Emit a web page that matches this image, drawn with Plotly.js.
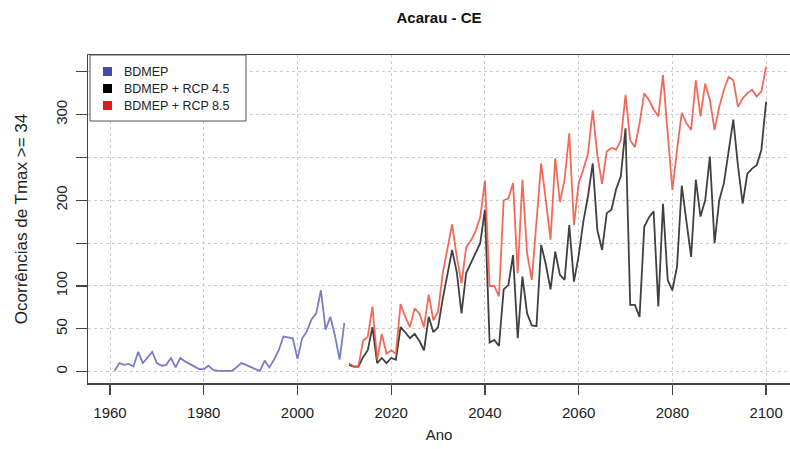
<!DOCTYPE html>
<html>
<head>
<meta charset="utf-8">
<script src="https://cdn.plot.ly/plotly-3.0.1.min.js"></script>
<style>html,body{margin:0;padding:0;background:#fff;}#chart{width:790px;height:449px;}</style>
</head>
<body>
<div id="chart"></div>
<script>
// Observed series (BDMEP station data)
const yearsObs = [];
for (let y = 1961; y <= 2010; y++) yearsObs.push(y);
const bdmep = [1,10,8,9,6,23,10,17,23,10,
               7,8,16,5,16,12,9,6,3,3,
               7,2,1,1,1,1,5,10,8,5,
               3,1,13,5,14,25,41,40,39,15,
               39,47,61,68,95,49,64,42,14,57];

// Projections 2011-2100
const yearsProj = [];
for (let y = 2011; y <= 2100; y++) yearsProj.push(y);
const rcp45 = [8,6,6,17,25,52,10,16,10,16,
               14,52,46,39,44,36,25,64,46,52,
               85,112,142,116,68,115,127,138,150,189,
               34,37,30,96,101,136,39,111,68,54,
               53,148,125,96,140,113,107,171,105,135,
               175,205,243,165,142,185,189,213,228,284,
               78,78,64,169,180,187,76,196,107,95,
               123,217,175,134,224,181,200,251,150,200,
               220,255,294,240,196,231,237,241,259,315];
const rcp85 = [10,6,6,36,41,76,14,44,21,25,
               21,79,64,52,74,68,52,90,60,70,
               115,142,172,134,103,145,153,164,180,223,
               100,100,88,200,202,220,115,224,138,107,
               170,243,200,154,249,198,224,278,171,220,
               236,255,305,252,219,257,261,259,270,323,
               270,262,290,325,317,306,298,346,278,212,
               259,302,290,282,340,298,336,317,282,309,
               329,344,340,309,319,325,329,321,327,356];

const xTicks = [1960,1980,2000,2020,2040,2060,2080,2100];
const yTicks = [0,50,100,150,200,250,300,350];
const yTickText = ['0','50','100','','200','','300',''];
const legendNames = ['BDMEP','BDMEP + RCP 4.5','BDMEP + RCP 8.5'];
const legendColors = ['#4848a8','#000000','#d42020'];

const lineBlue = 'rgba(100,100,190,0.85)';
const lineBlack = 'rgba(30,30,30,0.85)';
const lineRed = 'rgba(240,80,60,0.85)';

const traces = [
  {x: yearsObs, y: bdmep, type:'scatter', mode:'lines', name: legendNames[0], line:{color:lineBlue, width:1.8}, hoverinfo:'skip'},
  {x: yearsProj, y: rcp45, type:'scatter', mode:'lines', name: legendNames[1], line:{color:lineBlack, width:1.8}, hoverinfo:'skip'},
  {x: yearsProj, y: rcp85, type:'scatter', mode:'lines', name: legendNames[2], line:{color:lineRed, width:1.8}, hoverinfo:'skip'}
];

// Plot area in pixels: x 88..790, y 55..383
const PW = 702, PH = 328;
const px = v => v / PW;           // horizontal pixel offset -> paper
const py = v => 1 - v / PH;       // vertical pixel offset from top -> paper

const shapes = [
  {type:'rect', xref:'paper', yref:'paper', x0: px(2), x1: px(158), y0: py(66), y1: py(0),
   line:{color:'#555', width:1}, fillcolor:'#fff', layer:'above'}
];
const annotations = [];
const rowY = [16.5, 33.5, 50.5];
legendNames.forEach((name, i) => {
  shapes.push({type:'rect', xref:'paper', yref:'paper',
    x0: px(15), x1: px(24), y0: py(rowY[i] + 4.5), y1: py(rowY[i] - 4.5),
    line:{width:0}, fillcolor: legendColors[i], layer:'above'});
  annotations.push({xref:'paper', yref:'paper', x: px(34), y: py(rowY[i]),
    xanchor:'left', yanchor:'middle', showarrow:false, text: name,
    font:{size:12.5, color:'#222'}});
});

const axisColor = '#444';
const layout = {
  width: 790, height: 449,
  margin: {l: 88, r: 0, t: 55, b: 66, pad: 0},
  paper_bgcolor: '#fff', plot_bgcolor: '#fff',
  font: {family: 'Liberation Sans, Arial, sans-serif', size: 15, color: '#222'},
  title: {text: '<b>Acarau - CE</b>', x: 0.5, xref: 'paper', xanchor: 'center', y: 0.96, yref: 'container', yanchor: 'middle', font: {size: 15, color: '#111'}},
  xaxis: {
    range: [1955.3, 2105.1], tickmode: 'array', tickvals: xTicks, ticktext: xTicks.map(String),
    showgrid: true, gridcolor: '#cccccc', griddash: 'dot', gridwidth: 1,
    zeroline: false, showline: true, mirror: true, linecolor: axisColor, linewidth: 1.5,
    ticks: 'outside', ticklen: 10, tickcolor: axisColor, tickwidth: 1.2,
    ticklabelstandoff: 5, tickfont: {size: 15},
    title: {text: 'Ano', font: {size: 15}, standoff: 10}
  },
  yaxis: {
    range: [-13.2, 369.5], tickmode: 'array', tickvals: yTicks, ticktext: yTickText,
    tickangle: -90,
    showgrid: true, gridcolor: '#cccccc', griddash: 'dot', gridwidth: 1,
    zeroline: false, showline: true, mirror: false, linecolor: axisColor, linewidth: 1.5,
    ticks: 'outside', ticklen: 11, tickcolor: axisColor, tickwidth: 1.2,
    ticklabelstandoff: 3, tickfont: {size: 15},
    title: {text: 'Ocorrências de Tmax >= 34', font: {size: 17}, standoff: 20}
  },
  shapes: shapes,
  annotations: annotations,
  showlegend: false
};

Plotly.newPlot('chart', traces, layout, {displayModeBar: false, staticPlot: true});
</script>
</body>
</html>
